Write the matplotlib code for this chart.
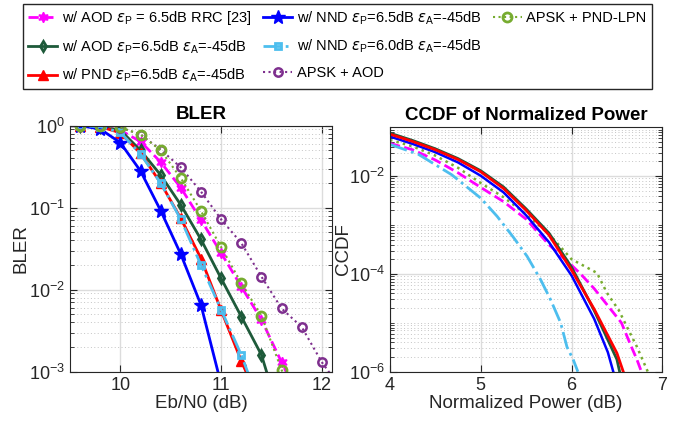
import numpy as np
import matplotlib
matplotlib.use('Agg')
import matplotlib.pyplot as plt
from matplotlib.lines import Line2D
from matplotlib.ticker import FixedLocator, LogLocator, NullFormatter

plt.rcParams['font.family'] = ['Liberation Sans', 'DejaVu Sans']
plt.rcParams['mathtext.fontset'] = 'dejavusans'

# ---- BLER data (Eb/N0 grid, each curve uses the first len(values) points)
snr = [9.4, 9.6, 9.8, 10.0, 10.2, 10.4, 10.6, 10.8, 11.0, 11.2, 11.4, 11.6, 11.8, 12.0, 12.2]
bler_aod_rrc = [1.0, 1.0, 0.98, 0.88, 0.64, 0.36, 0.175, 0.071, 0.028, 0.0109, 0.0043, 0.0013, 0.0004]
bler_aod = [1.0, 1.0, 0.97, 0.88, 0.50, 0.25, 0.108, 0.041, 0.0137, 0.0047, 0.0016, 0.00025]
bler_pnd = [1.0, 1.0, 0.97, 0.82, 0.46, 0.20, 0.074, 0.024, 0.0056, 0.00135, 0.00037]
bler_nnd65 = [1.0, 1.0, 0.91, 0.62, 0.28, 0.092, 0.027, 0.0065, 0.0007]
bler_nnd60 = [1.0, 1.0, 0.97, 0.83, 0.45, 0.20, 0.072, 0.020, 0.0057, 0.0016, 0.00035]
bler_apsk_aod = [1.0, 1.0, 1.0, 0.95, 0.78, 0.51, 0.31, 0.157, 0.072, 0.037, 0.0144, 0.0059, 0.0035, 0.0013, 0.0006]
bler_apsk_lpn = [1.0, 1.0, 1.0, 0.955, 0.78, 0.50, 0.23, 0.091, 0.033, 0.012, 0.0048, 0.00105, 0.0003]

# ---- CCDF data (normalized power in dB, CCDF)
pw_aod_rrc = [4.0, 4.25, 4.5, 4.75, 5.0, 5.25, 5.5, 5.75, 6.0, 6.1, 6.25, 6.4, 6.55, 6.65, 6.72, 6.77]
ccdf_aod_rrc = [0.0468, 0.0347, 0.0214, 0.0117, 0.00589, 0.00302, 0.00132, 3.98e-4, 1.51e-4, 1e-4,
                5.0e-5, 2.24e-5, 1e-5, 3.55e-6, 1.78e-6, 1e-6]
pw_aod = [4.0, 4.25, 4.5, 4.75, 5.0, 5.25, 5.5, 5.75, 6.0, 6.25, 6.5, 6.53]
ccdf_aod = [0.0759, 0.0537, 0.0363, 0.0229, 0.0129, 0.00603, 0.00214, 6.9e-4, 1.38e-4, 1.78e-5, 1.78e-6, 1e-6]
pw_pnd = [4.0, 4.25, 4.5, 4.75, 5.0, 5.25, 5.5, 5.75, 6.0, 6.25, 6.5, 6.57]
ccdf_pnd = [0.0724, 0.0513, 0.0347, 0.0219, 0.0123, 0.00562, 0.002, 6.3e-4, 1.2e-4, 1.9e-5, 2.4e-6, 1e-6]
pw_nnd65 = [4.0, 4.25, 4.5, 4.75, 5.0, 5.25, 5.5, 5.75, 6.0, 6.25, 6.4, 6.46]
ccdf_nnd65 = [0.0646, 0.0457, 0.0309, 0.0191, 0.0102, 0.00468, 0.00158, 4.5e-4, 9.3e-5, 1.2e-5, 2.5e-6, 1e-6]
pw_nnd60 = [4.0, 4.31, 4.68, 5.0, 5.18, 5.36, 5.51, 5.66, 5.77, 5.88, 5.95, 6.02, 6.07]
ccdf_nnd60 = [0.0447, 0.0282, 0.0107, 0.00355, 0.00151, 5.6e-4, 2.3e-4, 7.6e-5, 2.95e-5, 1e-5,
              3.2e-6, 1.74e-6, 1e-6]
pw_apsk_lpn = [4.0, 4.25, 4.5, 4.75, 5.0, 5.25, 5.5, 5.75, 6.0, 6.28, 6.39, 6.52, 6.61, 6.72, 6.84]
ccdf_apsk_lpn = [0.055, 0.0407, 0.0263, 0.0148, 0.00724, 0.00372, 0.00166, 6.6e-4, 2.0e-4, 1.05e-4,
                 4.1e-5, 1.82e-5, 8.3e-6, 3.24e-6, 1e-6]

labels = [
    r'w/ AOD $\epsilon_{\mathdefault{P}}$ = 6.5dB RRC [23]',
    r'w/ AOD $\epsilon_{\mathdefault{P}}$=6.5dB $\epsilon_{\mathdefault{A}}$=-45dB',
    r'w/ PND $\epsilon_{\mathdefault{P}}$=6.5dB $\epsilon_{\mathdefault{A}}$=-45dB',
    r'w/ NND $\epsilon_{\mathdefault{P}}$=6.5dB $\epsilon_{\mathdefault{A}}$=-45dB',
    r'w/ NND $\epsilon_{\mathdefault{P}}$=6.0dB $\epsilon_{\mathdefault{A}}$=-45dB',
    'APSK + AOD',
    'APSK + PND-LPN',
]

# colours / styles (MATLAB-ish)
c_mag = '#FF00FF'
c_dgreen = '#1E5A3A'
c_red = '#FF0000'
c_blue = '#0000FF'
c_cyan = '#4DBEEE'
c_purple = '#7E2F8E'
c_olive = '#77AC30'
axis_col = '#262626'

fig = plt.figure(figsize=(6.94, 4.24), dpi=100)
ax1 = fig.add_axes([70 / 694, 1 - 371.7 / 424, 262 / 694, 246 / 424])
ax2 = fig.add_axes([390 / 694, 1 - 371.7 / 424, 272.3 / 694, 244.4 / 424])


def xs(v):
    return snr[:len(v)]


# BLER curves
h = []
h += ax1.plot(xs(bler_aod_rrc), bler_aod_rrc, '--', color=c_mag, lw=2, marker=(6, 1, 0), ms=7.5,
              mfc=c_mag, mec=c_mag, label=labels[0])
h += ax1.plot(xs(bler_aod), bler_aod, '-', color=c_dgreen, lw=2, marker='d', ms=5.5,
              mfc='none', mec=c_dgreen, mew=2, label=labels[1])
h += ax1.plot(xs(bler_pnd), bler_pnd, '-', color=c_red, lw=2, marker='^', ms=6.5,
              mfc=c_red, mec=c_red, label=labels[2])
h += ax1.plot(xs(bler_nnd65), bler_nnd65, '-', color=c_blue, lw=2, marker='*', ms=10,
              mfc=c_blue, mec=c_blue, label=labels[3])
h += ax1.plot(xs(bler_nnd60), bler_nnd60, '-.', color=c_cyan, lw=2, marker='s', ms=5,
              mfc='none', mec=c_cyan, mew=2, label=labels[4])
h += ax1.plot(xs(bler_apsk_aod), bler_apsk_aod, ':', color=c_purple, lw=1.5, marker='o', ms=6,
              mfc='none', mec=c_purple, mew=1.8, label=labels[5])
h += ax1.plot(xs(bler_apsk_lpn), bler_apsk_lpn, ':', color=c_olive, lw=1.5, marker='o', ms=6.5,
              mfc='none', mec=c_olive, mew=2, label=labels[6])

# CCDF curves
ax2.plot(pw_apsk_lpn, ccdf_apsk_lpn, ':', color=c_olive, lw=1.8)
ax2.plot(pw_aod_rrc, ccdf_aod_rrc, '--', color=c_mag, lw=2)
ax2.plot(pw_nnd60, ccdf_nnd60, '-.', color=c_cyan, lw=2)
ax2.plot(pw_aod, ccdf_aod, '-', color=c_dgreen, lw=2)
ax2.plot(pw_nnd65, ccdf_nnd65, '-', color=c_blue, lw=1.8)
ax2.plot(pw_pnd, ccdf_pnd, '-', color=c_red, lw=2)

for ax in (ax1, ax2):
    ax.set_yscale('log')
    ax.tick_params(which='both', direction='in', top=True, right=True, colors=axis_col,
                   labelsize=13, labelcolor='#262626')
    ax.tick_params(which='major', length=5, width=0.8)
    ax.tick_params(which='minor', length=3, width=0.6)
    ax.tick_params(axis='x', which='minor', bottom=False, top=False)
    for s in ax.spines.values():
        s.set_color(axis_col)
        s.set_linewidth(0.8)
    ax.grid(True, which='major', color='#dcdcdc', lw=1.0)
    ax.grid(True, which='minor', axis='y', color='#c4c4c4', lw=0.7, linestyle=(0, (1, 2.5)))
    ax.set_axisbelow(True)

ax1.set_xlim(9.5, 12.1)
ax1.set_ylim(1e-3, 1)
ax1.set_xticks([10, 11, 12])
ax1.yaxis.set_major_locator(LogLocator(base=10, numticks=10))
ax1.yaxis.set_minor_locator(LogLocator(base=10, subs=np.arange(2, 10), numticks=10))
ax1.yaxis.set_minor_formatter(NullFormatter())
ax1.set_title('BLER', fontsize=13.5, fontweight='bold', pad=5)
ax1.set_xlabel('Eb/N0 (dB)', fontsize=13.5, labelpad=1, color='#262626')
ax1.set_ylabel('BLER', fontsize=13.5, labelpad=0, color='#262626')

ax2.set_xlim(4, 7)
ax2.set_ylim(1e-6, 1e-1)
ax2.set_xticks([4, 5, 6, 7])
ax2.yaxis.set_major_locator(FixedLocator([1e-6, 1e-4, 1e-2]))
minor = [k * 10.0 ** e for e in range(-6, -1) for k in range(1, 10)
         if not (k == 1 and e % 2 == 0)]
ax2.yaxis.set_minor_locator(FixedLocator(minor))
ax2.yaxis.set_minor_formatter(NullFormatter())
ax2.set_title('CCDF of Normalized Power', fontsize=13.5, fontweight='bold', pad=5)
ax2.set_xlabel('Normalized Power (dB)', fontsize=13.5, labelpad=1, color='#262626')
ax2.set_ylabel('CCDF', fontsize=13.5, labelpad=-2, color='#262626')

# shared legend on top: 3 + 3 + 1 entries column-wise, padded with blanks
blank = Line2D([], [], linestyle='none', marker='none')
leg_handles = h + [blank, blank]
leg_labels = labels + ['', '']
fig.legend(leg_handles, leg_labels, loc='upper left', bbox_to_anchor=(23 / 694, 1 - 4 / 424), ncol=3,
           frameon=True, fancybox=False, edgecolor='#262626', framealpha=1,
           borderaxespad=0, borderpad=0.35, handlelength=2.0, handletextpad=0.3,
           columnspacing=0.8, labelspacing=0.75,
           prop={'family': ['Liberation Sans Narrow', 'Liberation Sans'], 'size': 10.5})

fig.savefig('out.png', dpi=100)
